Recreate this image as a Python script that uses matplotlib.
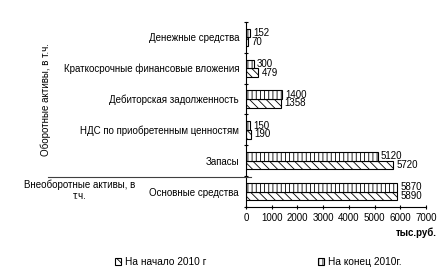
import matplotlib
matplotlib.use("Agg")
import matplotlib.pyplot as plt
import numpy as np

plt.rcParams['font.family'] = ['Liberation Sans', 'DejaVu Sans']
plt.rcParams['hatch.linewidth'] = 0.6

categories = ["Основные средства", "Запасы", "НДС по приобретенным ценностям",
              "Дебиторская задолженность", "Краткосрочные финансовые вложения",
              "Денежные средства"]
start_2010 = [5890, 5720, 190, 1358, 479, 70]
end_2010 = [5870, 5120, 150, 1400, 300, 152]
x_ticks = [0, 1000, 2000, 3000, 4000, 5000, 6000, 7000]

fig = plt.figure(figsize=(4.48, 2.76), dpi=100)
ax = fig.add_axes([246 / 448, 1 - 207 / 276, 180 / 448, 185 / 276])

y = np.arange(len(categories))
h = 0.28
fs = 7.0
ax.barh(y - h / 2, start_2010, height=h, color='white', edgecolor='black',
        hatch='\\\\\\\\', linewidth=0.8, label="На начало 2010 г")
ax.barh(y + h / 2, end_2010, height=h, color='white', edgecolor='black',
        hatch='||||', linewidth=0.8, label="На конец 2010г.")

for yi, v in zip(y, start_2010):
    ax.text(v + 130, yi - h / 2, str(v), va='center', ha='left', fontsize=fs)
for yi, v in zip(y, end_2010):
    ax.text(v + 130, yi + h / 2, str(v), va='center', ha='left', fontsize=fs)

ax.set_xlim(0, 7000)
ax.set_ylim(-0.5, len(categories) - 0.5)
ax.set_xticks(x_ticks)
ax.set_xticklabels([str(t) for t in x_ticks], fontsize=fs)
ax.set_yticks(np.arange(len(categories) + 1) - 0.5, minor=False)
ax.set_yticklabels([])
ax.set_yticks(y, minor=True)
ax.set_yticklabels(categories, minor=True, fontsize=fs)
ax.tick_params(axis='y', which='minor', length=0, pad=5)
ax.tick_params(axis='y', which='major', length=3, direction='inout')
ax.tick_params(axis='x', length=3, direction='inout', pad=3)
for s in ['top', 'right']:
    ax.spines[s].set_visible(False)
ax.spines['left'].set_linewidth(0.8)
ax.spines['bottom'].set_linewidth(0.8)

# group separators and labels
fig.add_artist(plt.Line2D([48 / 448, 251 / 448], [1 - 177 / 276, 1 - 177 / 276],
                          color='#404040', linewidth=0.8))
fig.text(46 / 448, 1 - 100 / 276, "Оборотные активы, в т.ч.", rotation=90,
         ha='center', va='center', fontsize=fs)
fig.text(80 / 448, 1 - 190 / 276, "Внеоборотные активы, в\nт.ч.",
         ha='center', va='center', fontsize=fs, linespacing=1.1)
fig.text(437 / 448, 1 - 233 / 276, "тыс.руб.", ha='right', va='center',
         fontsize=fs, fontweight='bold')

handles, labels = ax.get_legend_handles_labels()
fig.legend(handles, labels, loc='center', bbox_to_anchor=(258 / 448, 1 - 262 / 276),
           ncol=2, frameon=False, fontsize=fs + 0.3, handlelength=0.6, handleheight=0.6,
           columnspacing=11, handletextpad=0.4)

fig.savefig("out.png", dpi=100)
